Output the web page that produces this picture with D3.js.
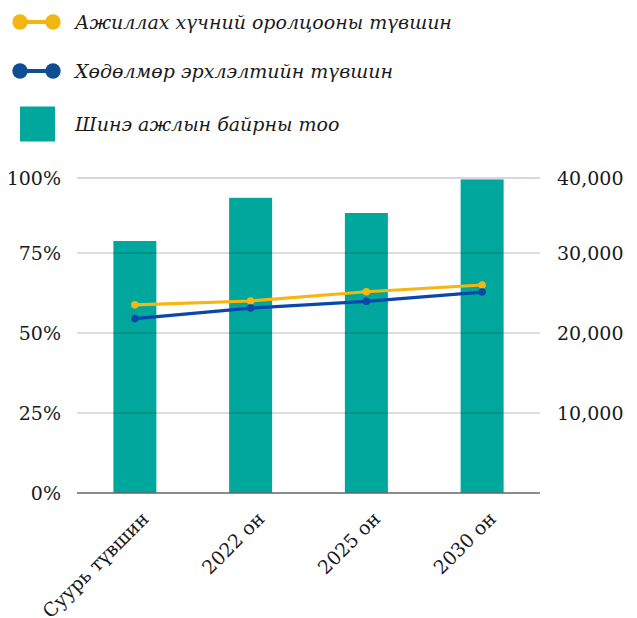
<!DOCTYPE html>
<html>
<head>
<meta charset="utf-8">
<script src="https://cdn.jsdelivr.net/npm/d3@7"></script>
<style>
  html, body { margin: 0; padding: 0; background: #fff; }
  svg { display: block; }
  text { font-family: "DejaVu Serif", "Liberation Serif", serif; fill: #1a1a1a; }
</style>
</head>
<body>
<svg id="chart" width="637" height="618"></svg>
<script>
// Categories and series
const categories = ["Суурь түвшин", "2022 он", "2025 он", "2030 он"];
const participationRate = [58.8, 60.0, 62.9, 65.0];   // Ажиллах хүчний оролцооны түвшин, %
const employmentRate   = [54.5, 57.8, 59.9, 62.8];    // Хөдөлмөр эрхлэлтийн түвшин, %
const newJobs          = [31500, 36900, 35000, 39200]; // Шинэ ажлын байрны тоо
const leftTicks  = [0, 25, 50, 75, 100];
const rightTicks = [10000, 20000, 30000, 40000];

const legendItems = [
  { label: "Ажиллах хүчний оролцооны түвшин", type: "line", color: "#f3b511" },
  { label: "Хөдөлмөр эрхлэлтийн түвшин",      type: "line", color: "#0d4f91" },
  { label: "Шинэ ажлын байрны тоо",            type: "rect", color: "#00a79c" }
];

const colors = { bar: "#00a79c", participation: "#f7b50f", employment: "#0a47ad" };

const svg = d3.select("#chart");
const plotLeft = 77, plotRight = 540, plotBottom = 493, plotTop = 178, scaleTop = 173;

const x = d3.scaleBand().domain(categories).range([plotLeft, plotRight]);
const yPct = d3.scaleLinear().domain([0, 100]).range([plotBottom, scaleTop]);
const yNum = d3.scaleLinear().domain([0, 40000]).range([plotBottom, scaleTop]);
const clampTop = v => Math.max(v, plotTop);

// Bars
const barW = 43;
svg.append("g").selectAll("rect").data(newJobs).join("rect")
  .attr("x", (d, i) => x(categories[i]) + x.bandwidth() / 2 - barW / 2)
  .attr("width", barW)
  .attr("y", d => clampTop(yNum(d)))
  .attr("height", d => plotBottom - clampTop(yNum(d)))
  .attr("fill", colors.bar);

// Grid lines (drawn above the bars, semi-transparent)
const grid = svg.append("g");
grid.selectAll("line.g").data(leftTicks.filter(t => t > 0 && t < 100)).join("line")
  .attr("x1", plotLeft).attr("x2", plotRight)
  .attr("y1", d => yPct(d)).attr("y2", d => yPct(d))
  .attr("stroke", "rgba(0,0,0,0.26)").attr("stroke-width", 1);
grid.append("line")
  .attr("x1", plotLeft).attr("x2", plotRight)
  .attr("y1", clampTop(yPct(100))).attr("y2", clampTop(yPct(100)))
  .attr("stroke", "#ddd3e6").attr("stroke-width", 2);
grid.append("line")
  .attr("x1", plotLeft).attr("x2", plotRight)
  .attr("y1", yPct(0)).attr("y2", yPct(0))
  .attr("stroke", "#666").attr("stroke-width", 1.5);

// Left axis labels
svg.append("g").selectAll("text").data(leftTicks).join("text")
  .attr("x", 61)
  .attr("y", d => clampTop(yPct(d)))
  .attr("dy", "0.36em")
  .attr("text-anchor", "end")
  .attr("font-size", 19)
  .text(d => d + "%");

// Right axis labels
const fmt = d3.format(",");
svg.append("g").selectAll("text").data(rightTicks).join("text")
  .attr("x", 557)
  .attr("y", d => clampTop(yNum(d)))
  .attr("dy", "0.36em")
  .attr("text-anchor", "start")
  .attr("font-size", 19)
  .text(d => fmt(d));

// Category labels
svg.append("g").selectAll("text").data(categories).join("text")
  .attr("text-anchor", "end")
  .attr("font-size", 19)
  .attr("transform", d => `translate(${x(d) + x.bandwidth() / 2 + 15},${520}) rotate(-45)`)
  .text(d => d);

// Lines
const cx = (d, i) => x(categories[i]) + x.bandwidth() / 2;
function drawSeries(values, color) {
  const line = d3.line().x(cx).y(d => yPct(d));
  svg.append("path").datum(values)
    .attr("d", line)
    .attr("fill", "none")
    .attr("stroke", color)
    .attr("stroke-width", 3.2);
  svg.append("g").selectAll("circle").data(values).join("circle")
    .attr("cx", cx)
    .attr("cy", d => yPct(d))
    .attr("r", 3.8)
    .attr("fill", color);
}
drawSeries(participationRate, colors.participation);
drawSeries(employmentRate, colors.employment);

// Legend
const legendY = [22, 71, 124];
const lg = svg.append("g");
legendItems.forEach((item, i) => {
  const cy = legendY[i];
  if (item.type === "line") {
    lg.append("line").attr("x1", 20).attr("x2", 53).attr("y1", cy).attr("y2", cy)
      .attr("stroke", item.color).attr("stroke-width", 4);
    [20, 53].forEach(px => lg.append("circle").attr("cx", px).attr("cy", cy).attr("r", 7.7).attr("fill", item.color));
  } else {
    lg.append("rect").attr("x", 20).attr("y", cy - 17.5).attr("width", 35).attr("height", 35).attr("fill", item.color);
  }
  lg.append("text")
    .attr("x", 75).attr("y", cy).attr("dy", "0.36em")
    .attr("font-size", 19).attr("font-style", "italic")
    .text(item.label);
});
</script>
</body>
</html>
